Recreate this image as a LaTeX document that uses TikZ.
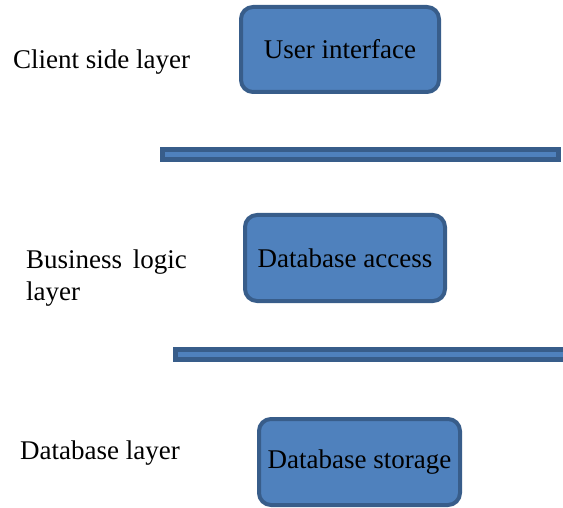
\documentclass[tikz,border=0pt]{standalone}
\usepackage{fontspec}
\setmainfont{Liberation Serif}
\begin{document}
\begin{tikzpicture}[x=1pt,y=-1pt,
  box/.style={draw=boxline,fill=boxfill,line width=4pt,rounded corners=12pt,inner sep=0pt,
    font=\fontsize{27}{32}\selectfont},
  lbl/.style={anchor=base west,inner sep=0pt,font=\fontsize{27}{32}\selectfont},
  bar/.style={draw=boxline,fill=boxfill,line width=5pt}]
\definecolor{boxfill}{HTML}{4F81BD}
\definecolor{boxline}{HTML}{385D8A}
\useasboundingbox (0,0) rectangle (563,508);
\node[box,minimum width=198pt,minimum height=85pt] (ui) at (340,49.5) {User interface};
\node[box,minimum width=200pt,minimum height=86pt] (da) at (345,258) {Database access};
\node[box,minimum width=201pt,minimum height=86pt] (ds) at (359.5,462) {Database storage};
\draw[bar] (162.5,149.5) rectangle (558.5,159.5);
\draw[bar] (175.5,349.5) rectangle (566,359.5);
\node[lbl] (l1) at (13,69) {Client side layer};
\node[lbl] (l2) at (26,269) {Business\hspace{0.4em}logic};
\node[lbl] (l3) at (26,300) {layer};
\node[lbl] (l4) at (20,459) {Database layer};
\end{tikzpicture}
\end{document}
